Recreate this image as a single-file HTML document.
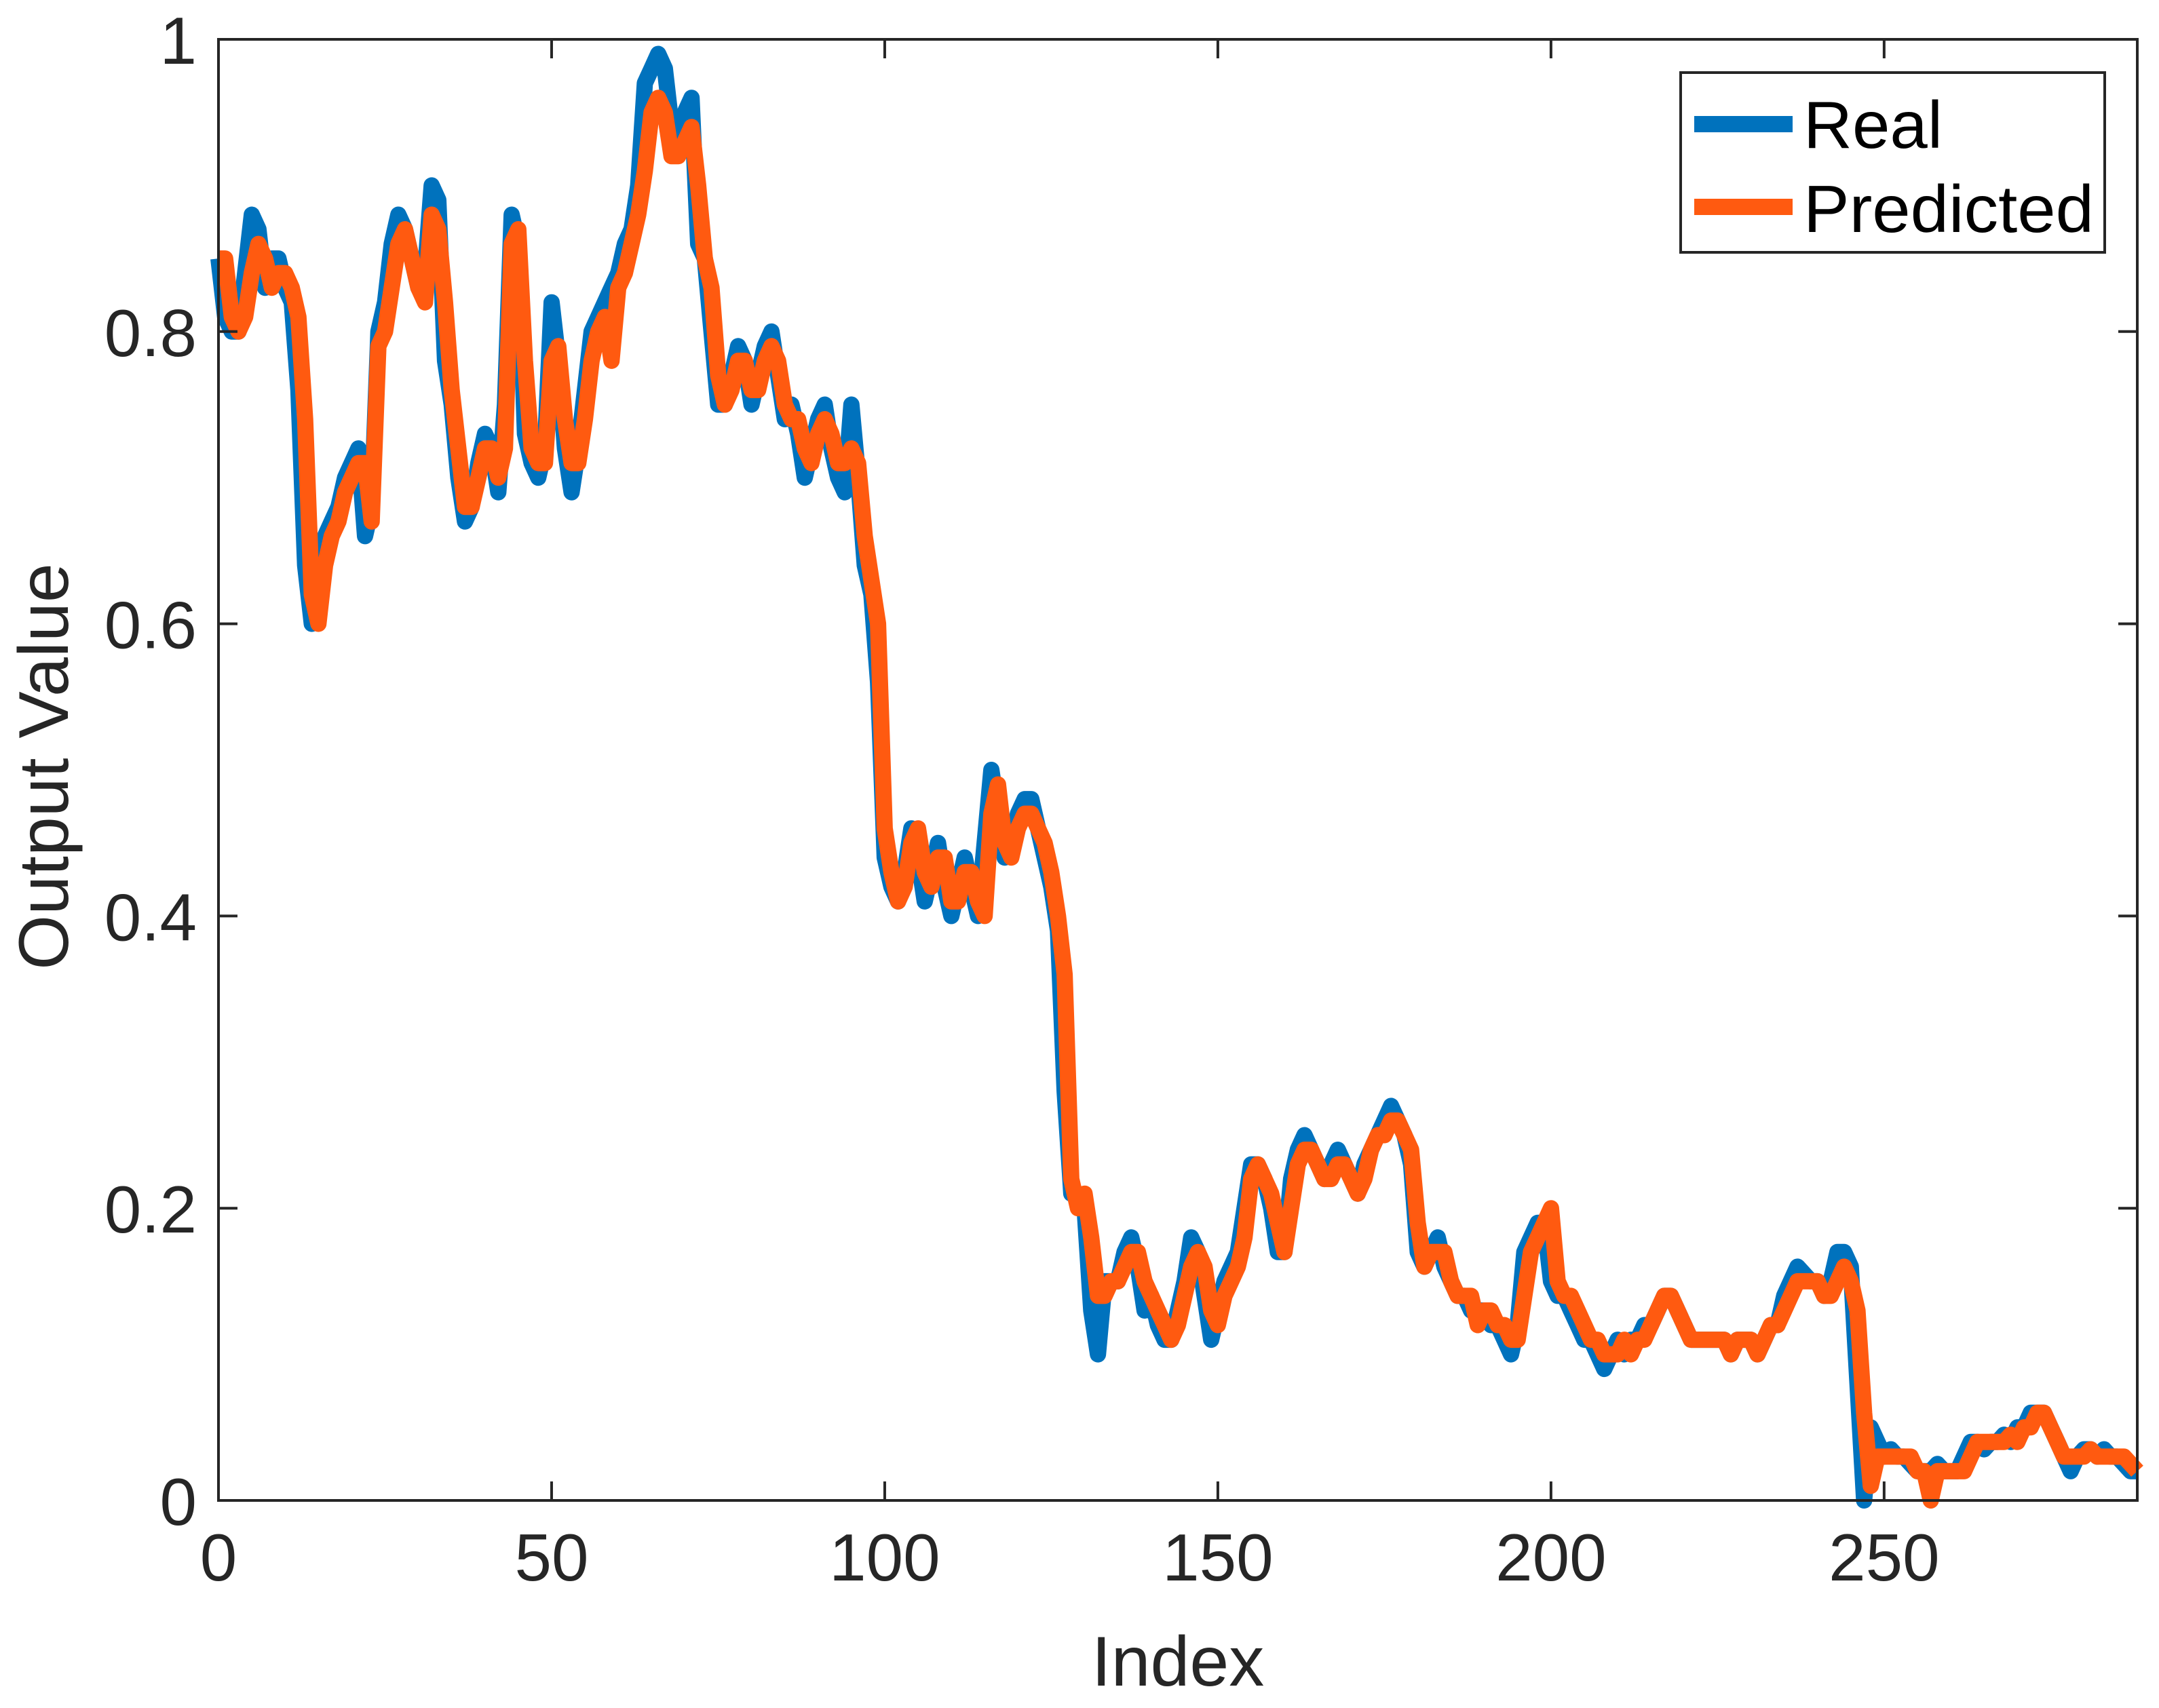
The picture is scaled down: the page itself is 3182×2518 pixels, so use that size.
<!DOCTYPE html>
<html><head><meta charset="utf-8"><style>
html,body{margin:0;padding:0;background:#fff;}
svg{display:block;font-family:"Liberation Sans",Arial,sans-serif;}
</style></head><body>
<svg id="chart" width="3182" height="2518" viewBox="0 0 3182 2518" xmlns="http://www.w3.org/2000/svg">
<rect x="0" y="0" width="3182" height="2518" fill="#fff"/>
<g id="series"></g>
<g id="axes"></g>
<text x="1736" y="2485" font-size="104" text-anchor="middle" fill="#262626">Index</text>
<text transform="translate(100,1130) rotate(-90)" font-size="104" text-anchor="middle" fill="#262626">Output Value</text>
<g>
<rect x="2477" y="107" width="625" height="265" fill="#fff" stroke="#262626" stroke-width="4"/>
<line x1="2497" y1="183" x2="2642" y2="183" stroke="#0072BD" stroke-width="24"/>
<text x="2658" y="218" font-size="98" fill="#000" textLength="205" lengthAdjust="spacingAndGlyphs">Real</text>
<line x1="2497" y1="305" x2="2642" y2="305" stroke="#FF5A10" stroke-width="24"/>
<text x="2658" y="342" font-size="98" fill="#000" textLength="428" lengthAdjust="spacingAndGlyphs">Predicted</text>
</g>
</svg>
<script>
const realValues=[.85,.81,.80,.80,.84,.88,.87,.83,.85,.85,.83,.82,.76,.64,.60,.63,.66,.67,.68,.70,.71,.72,.66,.68,.80,.82,.86,.88,.87,.85,.83,.84,.90,.89,.78,.75,.70,.67,.68,.71,.73,.72,.69,.75,.88,.86,.73,.71,.70,.72,.82,.78,.72,.69,.72,.76,.80,.81,.82,.83,.84,.86,.87,.90,.97,.98,.99,.98,.94,.93,.95,.96,.86,.85,.80,.75,.75,.77,.79,.78,.75,.77,.79,.80,.77,.74,.75,.73,.70,.72,.74,.75,.72,.70,.69,.75,.70,.64,.62,.56,
.44,.42,.41,.43,.46,.44,.41,.43,.45,.42,.40,.42,.44,.42,.40,.45,.50,.47,.44,.45,.47,.48,.48,.46,.44,.42,.39,.28,.21,.21,.20,.13,.10,.15,.15,.15,.17,.18,.16,.13,.14,.12,.11,.11,.13,.15,.18,.17,.14,.11,.13,.15,.16,.17,.20,.23,.23,.22,.20,.17,.17,.22,.24,.25,.24,.23,.22,.23,.24,.23,.22,.21,.23,.24,.25,.26,.27,.26,.25,.23,.17,.16,.17,.18,.16,.15,.14,.14,.13,.13,.13,.12,.12,.11,.10,.12,.17,.18,.19,.19,
.15,.14,.14,.13,.12,.11,.11,.10,.09,.10,.11,.10,.11,.11,.12,.12,.13,.14,.14,.13,.12,.11,.11,.11,.11,.11,.11,.10,.11,.11,.11,.10,.11,.12,.12,.14,.15,.16,.155,.15,.15,.14,.15,.17,.17,.16,.08,.00,.05,.04,.03,.035,.03,.03,.025,.02,.02,.02,.025,.02,.02,.02,.03,.04,.04,.035,.04,.04,.045,.04,.05,.05,.06,.06,.06,.05,.04,.03,.02,.03,.035,.035,.03,.035,.03,.03,.025,.02,.02];
const predictedValues=[.85,.85,.81,.80,.81,.84,.86,.85,.83,.84,.84,.83,.81,.74,.62,.60,.64,.66,.67,.69,.70,.71,.71,.67,.79,.80,.83,.86,.87,.85,.83,.82,.88,.87,.82,.76,.72,.68,.68,.70,.72,.72,.70,.72,.86,.87,.78,.72,.71,.71,.78,.79,.74,.71,.71,.74,.78,.80,.81,.78,.83,.84,.86,.88,.91,.95,.96,.95,.92,.92,.93,.94,.90,.85,.83,.77,.75,.76,.78,.78,.76,.76,.78,.79,.78,.75,.74,.74,.72,.71,.73,.74,.73,.71,.71,.72,.71,.66,.63,.60,
.46,.43,.41,.42,.45,.46,.43,.42,.44,.44,.41,.41,.43,.43,.41,.40,.47,.49,.45,.44,.46,.47,.47,.46,.45,.43,.40,.36,.22,.20,.21,.18,.14,.14,.15,.15,.16,.17,.17,.15,.14,.13,.12,.11,.12,.14,.16,.17,.16,.13,.12,.14,.15,.16,.18,.22,.23,.22,.21,.19,.17,.20,.23,.24,.24,.23,.22,.22,.23,.23,.22,.21,.22,.24,.25,.25,.26,.26,.25,.24,.19,.16,.17,.17,.17,.15,.14,.14,.14,.12,.13,.13,.12,.12,.11,.11,.14,.17,.18,.19,
.20,.15,.14,.14,.13,.12,.11,.11,.10,.10,.10,.11,.10,.11,.11,.12,.13,.14,.14,.13,.12,.11,.11,.11,.11,.11,.11,.10,.11,.11,.11,.10,.11,.12,.12,.13,.14,.15,.15,.15,.15,.14,.14,.15,.16,.15,.13,.06,.01,.03,.03,.03,.03,.03,.03,.02,.02,.00,.02,.02,.02,.02,.02,.03,.04,.04,.04,.04,.04,.045,.04,.05,.05,.06,.06,.05,.04,.03,.03,.03,.03,.035,.03,.03,.03,.03,.03,.025,.02];
const xTicks=[0,50,100,150,200,250];
const yTicks=[0,0.2,0.4,0.6,0.8,1];
const yTickLabels=["0","0.2","0.4","0.6","0.8","1"];
const X0=322,X1=3150,Y0=58,Y1=2212,XMAX=288;
const sx=v=>X0+(v/XMAX)*(X1-X0);
const sy=v=>Y1-v*(Y1-Y0);
const NS="http://www.w3.org/2000/svg";
const series=document.getElementById('series');
const axes=document.getElementById('axes');
function drawLine(vals,color,name){
  const p=document.createElementNS(NS,'path');
  
  
  p.setAttribute('d',vals.map((v,i)=>(i?'L':'M')+sx(i).toFixed(1)+' '+sy(v).toFixed(1)).join(''));
  p.setAttribute('fill','none');p.setAttribute('stroke',color);
  p.setAttribute('stroke-width','24');p.setAttribute('stroke-linejoin','round');p.setAttribute('stroke-linecap','butt');
  series.appendChild(p);
}
drawLine(realValues,'#0072BD','real-line');
drawLine(predictedValues,'#FF5A10','predicted-line');
const frame=document.createElementNS(NS,'rect');


frame.setAttribute('x',X0);frame.setAttribute('y',Y0);frame.setAttribute('width',X1-X0);frame.setAttribute('height',Y1-Y0);
frame.setAttribute('fill','none');frame.setAttribute('stroke','#262626');frame.setAttribute('stroke-width','4');
axes.appendChild(frame);
function ln(x1,y1,x2,y2,name){
  const l=document.createElementNS(NS,'line');
  
  
  l.setAttribute('x1',x1);l.setAttribute('y1',y1);l.setAttribute('x2',x2);l.setAttribute('y2',y2);
  l.setAttribute('stroke','#262626');l.setAttribute('stroke-width','4');axes.appendChild(l);
}
function tx(x,y,s,anchor,name){
  const t=document.createElementNS(NS,'text');
  
  
  t.setAttribute('x',x);t.setAttribute('y',y);t.setAttribute('font-size','98');
  t.setAttribute('text-anchor',anchor);t.setAttribute('fill','#262626');t.textContent=s;axes.appendChild(t);
}
xTicks.forEach(v=>{const x=sx(v);ln(x,Y1,x,Y1-28,'x-tick');ln(x,Y0,x,Y0+28,'x-tick-top');tx(x,Y1+118,String(v),'middle','x-tick-label');});
yTicks.forEach((v,i)=>{const y=sy(v);ln(X0,y,X0+28,y,'y-tick');ln(X1,y,X1-28,y,'y-tick-right');tx(X0-32,y+36,yTickLabels[i],'end','y-tick-label');});
</script>
</body></html>
